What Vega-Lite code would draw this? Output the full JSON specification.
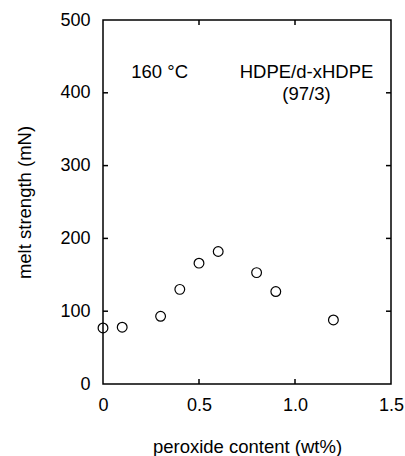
{
  "$schema": "https://vega.github.io/schema/vega-lite/v6.json",
  "width": 288,
  "height": 364,
  "autosize": {"type": "none"},
  "padding": {"left": 103, "top": 20, "right": 14, "bottom": 72},
  "background": "white",
  "config": {
    "view": {"stroke": "black", "strokeWidth": 1.5},
    "font": "Liberation Sans",
    "axis": {
      "labelFont": "Liberation Sans",
      "titleFont": "Liberation Sans",
      "labelFontSize": 18,
      "titleFontSize": 18.5,
      "titleFontWeight": "normal",
      "labelColor": "black",
      "titleColor": "black",
      "domain": false,
      "ticks": false,
      "grid": false
    }
  },
  "datasets": {
    "pts": [
      {"peroxide": 0.0, "strength": 77},
      {"peroxide": 0.1, "strength": 78},
      {"peroxide": 0.3, "strength": 93},
      {"peroxide": 0.4, "strength": 130},
      {"peroxide": 0.5, "strength": 166},
      {"peroxide": 0.6, "strength": 182},
      {"peroxide": 0.8, "strength": 153},
      {"peroxide": 0.9, "strength": 127},
      {"peroxide": 1.2, "strength": 88}
    ],
    "notes": [
      {"peroxide": 0.295, "strength": 420, "label": "160 °C"},
      {"peroxide": 1.06, "strength": 420, "label": "HDPE/d-xHDPE"},
      {"peroxide": 1.06, "strength": 390, "label": "(97/3)"}
    ],
    "xticks": [{"v": 0.5}, {"v": 1.0}],
    "yticks": [{"v": 100}, {"v": 200}, {"v": 300}, {"v": 400}]
  },
  "layer": [
    {
      "data": {"name": "pts"},
      "mark": {"type": "point", "shape": "circle", "filled": false, "stroke": "black", "strokeWidth": 1.2, "size": 95, "opacity": 1},
      "encoding": {
        "x": {
          "field": "peroxide", "type": "quantitative",
          "scale": {"domain": [0, 1.5], "nice": false, "zero": false},
          "axis": {
            "orient": "bottom", "values": [0, 0.5, 1.0, 1.5],
            "labelExpr": "datum.value == 0 ? '0' : format(datum.value, '.1f')",
            "ticks": false, "labelPadding": 12, "labelFlush": false,
            "title": "peroxide content (wt%)", "titlePadding": 23
          }
        },
        "y": {
          "field": "strength", "type": "quantitative",
          "scale": {"domain": [0, 500], "nice": false},
          "axis": {
            "orient": "left", "values": [0, 100, 200, 300, 400, 500],
            "ticks": false, "labelPadding": 13, "labelFlush": false,
            "title": "melt strength (mN)", "titlePadding": 25
          }
        }
      }
    },
    {
      "data": {"name": "notes"},
      "mark": {"type": "text", "fontSize": 18.5, "font": "Liberation Sans", "color": "black", "baseline": "alphabetic", "align": "center"},
      "encoding": {
        "x": {"field": "peroxide", "type": "quantitative", "axis": null},
        "y": {"field": "strength", "type": "quantitative", "axis": null},
        "text": {"field": "label"}
      }
    },
    {
      "data": {"name": "xticks"},
      "mark": {"type": "tick", "orient": "vertical", "size": 5, "thickness": 1.5, "color": "black", "opacity": 1, "yOffset": -2.5},
      "encoding": {
        "x": {"field": "v", "type": "quantitative", "axis": null},
        "y": {"datum": 0, "type": "quantitative", "axis": null}
      }
    },
    {
      "data": {"name": "xticks"},
      "mark": {"type": "tick", "orient": "vertical", "size": 5, "thickness": 1.5, "color": "black", "opacity": 1, "yOffset": 2.5},
      "encoding": {
        "x": {"field": "v", "type": "quantitative", "axis": null},
        "y": {"datum": 500, "type": "quantitative", "axis": null}
      }
    },
    {
      "data": {"name": "yticks"},
      "mark": {"type": "tick", "orient": "horizontal", "size": 5, "thickness": 1.5, "color": "black", "opacity": 1, "xOffset": 2.5},
      "encoding": {
        "y": {"field": "v", "type": "quantitative", "axis": null},
        "x": {"datum": 0, "type": "quantitative", "axis": null}
      }
    },
    {
      "data": {"name": "yticks"},
      "mark": {"type": "tick", "orient": "horizontal", "size": 5, "thickness": 1.5, "color": "black", "opacity": 1, "xOffset": -2.5},
      "encoding": {
        "y": {"field": "v", "type": "quantitative", "axis": null},
        "x": {"datum": 1.5, "type": "quantitative", "axis": null}
      }
    }
  ],
  "resolve": {"axis": {"x": "independent", "y": "independent"}}
}
